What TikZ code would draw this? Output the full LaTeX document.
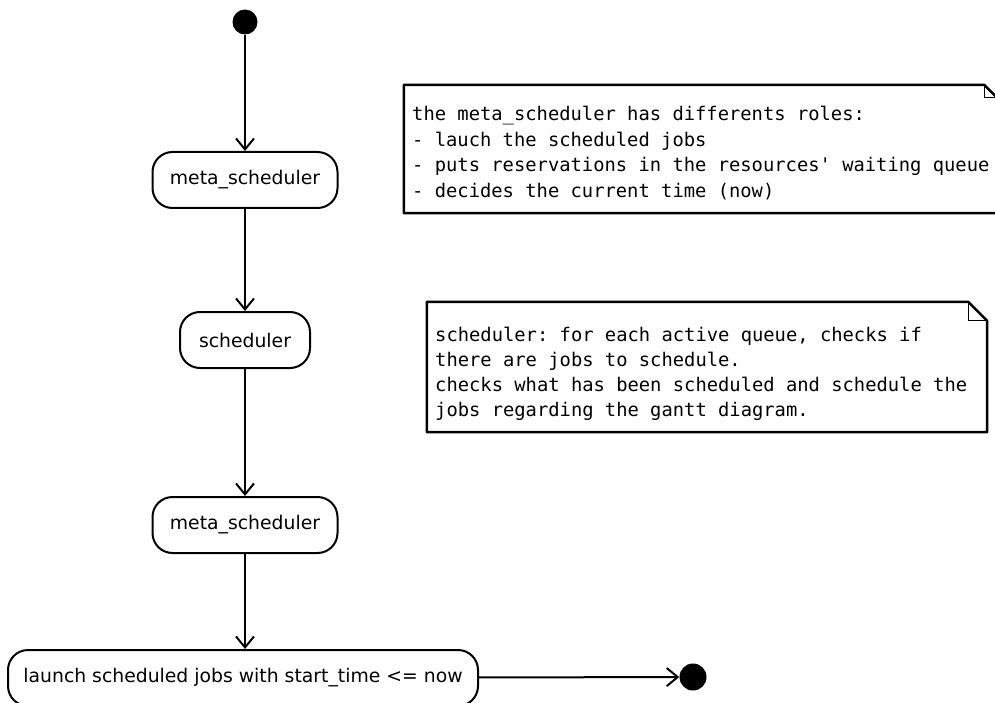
\documentclass[tikz,border=0pt]{standalone}
\usepackage{fontspec}
\setmainfont{DejaVu Sans}
\setmonofont{DejaVu Sans Mono}
\usetikzlibrary{arrows.meta}
\newcommand\notefont[1]{\ttfamily\fontsize{18.8}{#1}\selectfont\spaceskip=0.602em\relax}
\tikzset{
  state/.style = {draw, line width = 2pt, rounded corners = 20pt, minimum height = 56pt, inner sep = 0pt, font = \fontsize{18.8}{22}\selectfont},
  dot/.style = {circle, fill = black, minimum size = 25pt, inner sep = 0pt},
  flow/.style = {line width = 2pt, -{Straight Barb[length = 11pt, width = 18pt, line width = 2pt]}},
  notebox/.style = {inner sep = 0pt},
  notetext/.style = {inner sep = 0pt, anchor = west, align = left, font = \notefont{25.4pt}}
}
\begin{document}
\begin{tikzpicture}[x = 1pt, y = -1pt]
\useasboundingbox (0,0) rectangle (995,703);
\pgfmathsetlengthmacro\fold{13pt};
\node[dot] (start) at (245,22) {};
\node[state, minimum width = 185pt] (meta1) at (245,180) {meta\_scheduler};
\node[state, minimum width = 130pt] (sched) at (245,340) {scheduler};
\node[state, minimum width = 185pt] (meta2) at (245,525) {meta\_scheduler};
\node[state, minimum width = 470pt] (launch) at (243,678) {launch scheduled jobs with start\_time <= now};
\node[dot, minimum size = 27pt] (end) at (693,677) {};
\draw[flow] (start) -- (meta1);
\draw[flow] (meta1) -- (sched);
\draw[flow] (sched) -- (meta2);
\draw[flow] (meta2) -- (launch.north -| meta2);
\draw[flow] (launch) -- (end);
\node[notebox, minimum width = 593pt, minimum height = 128pt] (rolesnote) at (700.5,149) {};
\draw[line width = 2.5pt, line join = round] (rolesnote.south west) -- (rolesnote.north west) -- ([xshift = -\fold]rolesnote.north east) -- ([yshift = -\fold]rolesnote.north east) -- (rolesnote.south east) -- cycle;
\draw[line width = 1pt] ([xshift = -\fold]rolesnote.north east) |- ([yshift = -\fold]rolesnote.north east);
\node[notetext] (rolestext) at (412,153) {the meta\_scheduler has differents roles:\\- lauch the scheduled jobs\\- puts reservations in the resources' waiting queue\\- decides the current time (now)};
\node[notebox, minimum width = 560pt, minimum height = 130pt] (schednote) at (707,367) {};
\draw[line width = 2.5pt, line join = round] (schednote.south west) -- (schednote.north west) -- ([xshift = -19pt]schednote.north east) -- ([yshift = -19pt]schednote.north east) -- (schednote.south east) -- cycle;
\draw[line width = 1pt] ([xshift = -19pt]schednote.north east) |- ([yshift = -19pt]schednote.north east);
\node[notetext, font = \notefont{25pt}] (schedtext) at (435,374) {scheduler: for each active queue, checks if\\there are jobs to schedule.\\checks what has been scheduled and schedule the\\jobs regarding the gantt diagram.};
\end{tikzpicture}
\end{document}
